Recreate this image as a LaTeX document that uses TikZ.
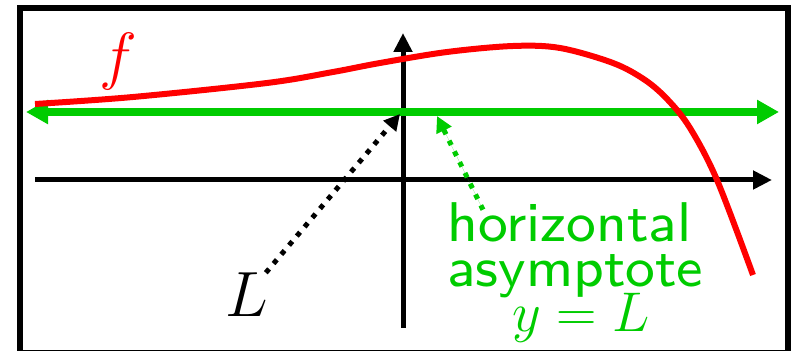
\RequirePackage{fix-cm}
\documentclass[tikz,border=0pt]{standalone}
\usepackage{fontspec}
\setsansfont{lmsans8-regular.otf}
\usetikzlibrary{arrows.meta, positioning}
\definecolor{asymgreen}{RGB}{0, 204, 0}
\begin{document}
\begin{tikzpicture}[
        x=0.5pt, y=-0.5pt,
        axis/.style={line width=2.5pt, -{Triangle[length=9.5pt,width=9pt]}},
        asymline/.style={line width=4pt, draw=asymgreen,
                    {Triangle[length=11pt,width=11.5pt]}-{Triangle[length=11pt,width=11.5pt]}},
        graph/.style={line width=3pt, draw=red},
        pointer/.style={line width=2.5pt, dash pattern=on 2.5pt off 3.5pt,
                    -{Triangle[length=8pt,width=8pt]}},
        biglabel/.style={font=\fontsize{32}{36}\selectfont, inner sep=0pt},
        asymlabel/.style={text=asymgreen, inner sep=0pt,
                    font=\sffamily\fontsize{28}{22.5}\selectfont}
      ]
        \useasboundingbox (0,0) rectangle (792,351);
        \draw[line width=3pt] (20,8) rectangle (788,353.5);
        % axes
        \coordinate (xstart) at (35,180);
        \coordinate (xend) at (772,180);
        \coordinate (ystart) at (403,328);
        \coordinate (yend) at (403,33);
        \draw[axis] (xstart) -- (xend);
        \draw[axis] (ystart) -- (yend);
        % asymptote y = L
        \coordinate (asleft) at (26,112);
        \coordinate (asright) at (779,112);
        \draw[asymline] (asleft) -- (asright);
        % the function
        \draw[graph] plot[smooth, tension=0.55] coordinates {(35,104) (133,97) (267,83) (333,72)
            (380,63) (447,52) (513,46) (560,48) (613,63) (645,80) (668,100) (690,128) (717,180) (753,275)};
        \node[biglabel, text=red] (flabel) at (118,62) {$f$};
        % labels and pointers
        \node[biglabel] (Llabel) at (247,295) {$L$};
        \coordinate (Lpt) at (400,114);
        \draw[pointer] (Llabel) -- (Lpt);
        \node[asymlabel, anchor=base west, align=left] (asym) at (447,287) {horizontal\\asymptote};
        \node[asymlabel, font=\fontsize{28}{32}\selectfont, anchor=base] (asymeq) at (581,332) {$y=L$};
        \coordinate (aspt) at (437,116);
        \draw[pointer, draw=asymgreen, fill=asymgreen] ([shift={(36,7)}]asym.north west) -- (aspt);
      \end{tikzpicture}
\end{document}
